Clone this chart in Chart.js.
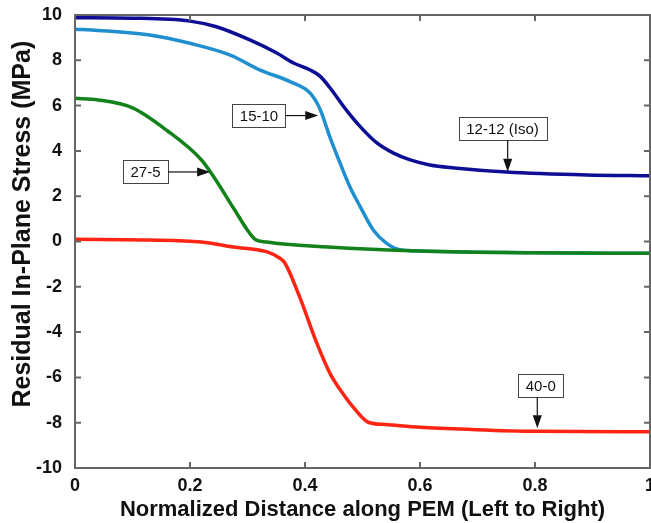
<!DOCTYPE html>
<html>
<head>
<meta charset="utf-8">
<title>Residual In-Plane Stress</title>
<script src="https://cdn.jsdelivr.net/npm/chart.js"></script>
<style>
  html, body { margin: 0; padding: 0; background: #fff; }
  #wrap { width: 651px; height: 523px; }
</style>
</head>
<body>
<div id="wrap"><canvas id="stressChart" width="651" height="523"></canvas></div>
<script>
// values
const xTicks = [0, 0.2, 0.4, 0.6, 0.8, 1];
const yTicks = [-10, -8, -6, -4, -2, 0, 2, 4, 6, 8, 10];

const isoX = [0, 0.1, 0.2, 0.246, 0.304, 0.351, 0.38, 0.409, 0.426, 0.443, 0.472, 0.496, 0.525, 0.554, 0.583, 0.617, 0.66, 0.75, 0.89, 1.0];
const isoY = [9.88, 9.86, 9.73, 9.48, 8.9, 8.32, 7.88, 7.57, 7.3, 6.8, 5.8, 5.07, 4.35, 3.9, 3.6, 3.38, 3.25, 3.07, 2.94, 2.9];

const s1510X = [0, 0.04, 0.13, 0.2, 0.27, 0.322, 0.374, 0.409, 0.426, 0.443, 0.461, 0.478, 0.496, 0.519, 0.542, 0.565, 0.6, 0.7, 0.8, 1.0];
const s1510Y = [9.37, 9.32, 9.12, 8.75, 8.23, 7.57, 7.06, 6.55, 5.85, 4.63, 3.46, 2.42, 1.54, 0.5, -0.08, -0.36, -0.42, -0.47, -0.5, -0.52];

const s275X = [0, 0.04, 0.1, 0.16, 0.22, 0.24, 0.275, 0.3, 0.313, 0.333, 0.44, 0.6, 0.8, 1.0];
const s275Y = [6.32, 6.25, 5.9, 4.9, 3.6, 2.9, 1.5, 0.5, 0.1, -0.02, -0.24, -0.42, -0.5, -0.52];

const s400X = [0, 0.13, 0.22, 0.275, 0.333, 0.357, 0.365, 0.39, 0.42, 0.445, 0.46, 0.485, 0.51, 0.54, 0.6, 0.69, 0.8, 1.0];
const s400Y = [0.1, 0.07, -0.02, -0.24, -0.45, -0.75, -0.95, -2.4, -4.45, -5.9, -6.5, -7.35, -7.98, -8.08, -8.2, -8.3, -8.38, -8.4];

// callouts: box centre and arrow tip, in data units
const noteText = ['15-10', '27-5', '12-12 (Iso)', '40-0'];
const noteBoxX = [0.32, 0.1226, 0.7435, 0.81];
const noteBoxY = [5.56, 3.07, 4.99, -6.36];
const noteTipX = [0.423, 0.235, 0.7525, 0.804];
const noteTipY = [5.56, 3.07, 3.08, -8.24];

const FONT = "'Liberation Sans', Arial, sans-serif";

function pairs(xs, ys) {
  return xs.map((x, i) => ({ x: x, y: ys[i] }));
}

function series(label, xs, ys, color) {
  return {
    label: label,
    data: pairs(xs, ys),
    borderColor: color,
    borderWidth: 3.5,
    pointRadius: 0,
    fill: false,
    cubicInterpolationMode: 'monotone'
  };
}

// frame, inward ticks and callout boxes
const framePlugin = {
  id: 'frame',
  afterDatasetsDraw(chart) {
    const ctx = chart.ctx;
    const a = chart.chartArea;
    const xs = chart.scales.x, ys = chart.scales.y;
    ctx.save();
    ctx.strokeStyle = '#666';
    ctx.lineWidth = 2;
    ctx.strokeRect(a.left, a.top, a.right - a.left, a.bottom - a.top);
    ctx.beginPath();
    xTicks.forEach(v => {
      const px = xs.getPixelForValue(v);
      ctx.moveTo(px, a.bottom); ctx.lineTo(px, a.bottom - 6);
      ctx.moveTo(px, a.top); ctx.lineTo(px, a.top + 6);
    });
    yTicks.forEach(v => {
      const py = ys.getPixelForValue(v);
      ctx.moveTo(a.left, py); ctx.lineTo(a.left + 6, py);
      ctx.moveTo(a.right, py); ctx.lineTo(a.right - 6, py);
    });
    ctx.stroke();

    ctx.font = '15px ' + FONT;
    ctx.textAlign = 'center';
    ctx.textBaseline = 'middle';
    noteText.forEach((t, i) => {
      const cx = xs.getPixelForValue(noteBoxX[i]);
      const cy = ys.getPixelForValue(noteBoxY[i]);
      const tx = xs.getPixelForValue(noteTipX[i]);
      const ty = ys.getPixelForValue(noteTipY[i]);
      const w = ctx.measureText(t).width + 15;
      const h = 23;
      ctx.fillStyle = '#fff';
      ctx.fillRect(cx - w / 2, cy - h / 2, w, h);
      ctx.strokeStyle = '#444';
      ctx.lineWidth = 1;
      ctx.strokeRect(Math.round(cx - w / 2) + 0.5, Math.round(cy - h / 2) + 0.5, Math.round(w), h);
      ctx.fillStyle = '#111';
      ctx.fillText(t, cx, cy + 1);

      // arrow from box edge to tip
      let sx, sy;
      if (Math.abs(ty - cy) < 2) { sx = cx + w / 2; sy = cy; }
      else { sx = tx; sy = cy + h / 2; }
      const ang = Math.atan2(ty - sy, tx - sx);
      const hl = 13, hw = 4.5;
      const bx = tx - hl * Math.cos(ang), by = ty - hl * Math.sin(ang);
      ctx.strokeStyle = '#111';
      ctx.lineWidth = 1.2;
      ctx.beginPath();
      ctx.moveTo(sx, sy); ctx.lineTo(bx, by);
      ctx.stroke();
      ctx.fillStyle = '#111';
      ctx.beginPath();
      ctx.moveTo(tx, ty);
      ctx.lineTo(bx - hw * Math.sin(ang), by + hw * Math.cos(ang));
      ctx.lineTo(bx + hw * Math.sin(ang), by - hw * Math.cos(ang));
      ctx.closePath();
      ctx.fill();
    });
    ctx.restore();
  }
};

new Chart(document.getElementById('stressChart'), {
  type: 'line',
  data: {
    datasets: [
      series('27-5', s275X, s275Y, '#13821b'),
      series('12-12 (Iso)', isoX, isoY, '#0e0e94'),
      series('15-10', s1510X, s1510Y, '#1f8fd0'),
      series('40-0', s400X, s400Y, '#ff2414')
    ]
  },
  options: {
    responsive: false,
    animation: false,
    layout: { padding: { top: 15, right: 1, left: 0, bottom: 0 } },
    plugins: { legend: { display: false }, tooltip: { enabled: false } },
    scales: {
      x: {
        type: 'linear',
        min: 0, max: 1,
        afterBuildTicks: s => { s.ticks = xTicks.map(v => ({ value: v })); },
        afterFit: s => { s.height = 55; s.paddingLeft = 0; s.paddingRight = 0; },
        grid: { display: false, drawTicks: false },
        border: { display: false },
        ticks: {
          padding: 7,
          maxRotation: 0,
          color: '#111',
          font: { family: FONT, size: 18, weight: 'bold' },
          callback: v => String(v)
        },
        title: {
          display: true,
          text: 'Normalized Distance along PEM (Left to Right)',
          color: '#111',
          font: { family: FONT, size: 22, weight: 'bold' },
          padding: { top: 0, bottom: 0 }
        }
      },
      y: {
        type: 'linear',
        min: -10, max: 10,
        afterBuildTicks: s => { s.ticks = yTicks.map(v => ({ value: v })); },
        afterFit: s => { s.width = 75; s.paddingTop = 0; s.paddingBottom = 0; },
        grid: { display: false, drawTicks: false },
        border: { display: false },
        ticks: {
          padding: 13,
          color: '#111',
          font: { family: FONT, size: 18, weight: 'bold' },
          callback: v => String(v)
        },
        title: {
          display: true,
          // leading spaces nudge the centred title upward, as in the original
          text: '     Residual In-Plane Stress (MPa)',
          color: '#111',
          font: { family: FONT, size: 25, weight: 'bold' },
          padding: { top: 8, bottom: 0 }
        }
      }
    }
  },
  plugins: [framePlugin]
});
</script>
</body>
</html>
